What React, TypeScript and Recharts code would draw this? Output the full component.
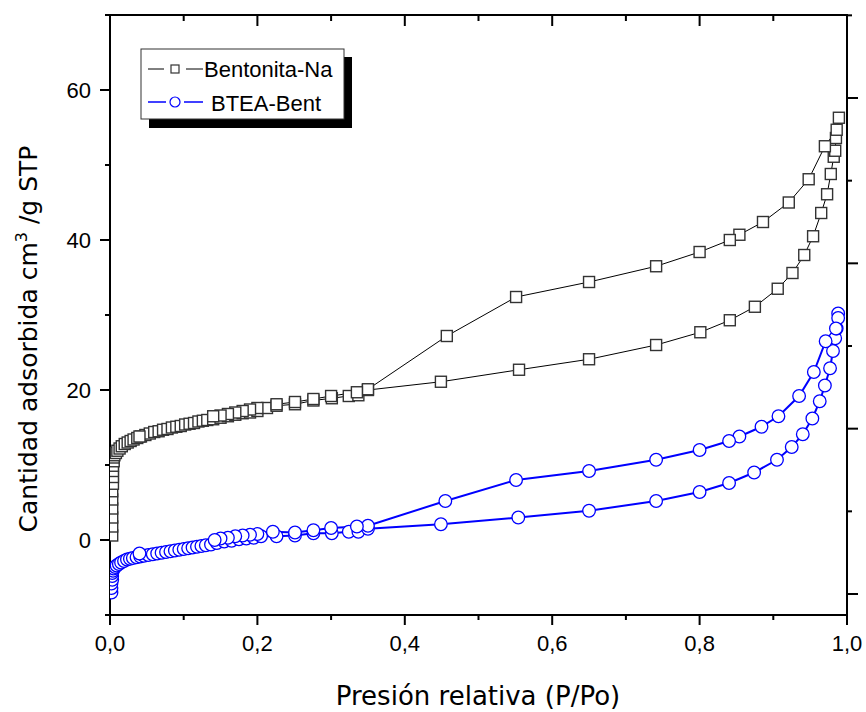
import React from 'react';
import { LineChart, Line, XAxis, YAxis } from 'recharts';

// Isotherm readings (relative pressure P/Po, adsorbed volume cm3/g STP)
const naAdsP = [0.003, 0.003, 0.003, 0.003, 0.003, 0.003, 0.004, 0.004, 0.004, 0.004, 0.005, 0.005, 0.006, 0.008, 0.010, 0.013, 0.016, 0.020, 0.024, 0.028, 0.032, 0.037, 0.042, 0.048, 0.054, 0.060, 0.066, 0.072, 0.078, 0.084, 0.090, 0.096, 0.102, 0.108, 0.114, 0.120, 0.126, 0.132, 0.140, 0.150, 0.160, 0.170, 0.180, 0.190, 0.200, 0.213, 0.226, 0.251, 0.276, 0.301, 0.324, 0.337, 0.350, 0.449, 0.555, 0.650, 0.741, 0.801, 0.841, 0.875, 0.906, 0.926, 0.942, 0.954, 0.965, 0.973, 0.978, 0.982, 0.984, 0.985, 0.989];
const naAdsV = [0.6, 1.8, 3.0, 4.2, 5.4, 6.5, 7.5, 8.4, 9.2, 9.9, 10.5, 11.0, 11.3, 11.6, 11.9, 12.2, 12.5, 12.8, 13.0, 13.2, 13.4, 13.6, 13.8, 14.0, 14.2, 14.4, 14.5, 14.7, 14.8, 15.0, 15.1, 15.2, 15.4, 15.5, 15.6, 15.8, 15.9, 16.0, 16.1, 16.3, 16.5, 16.7, 16.9, 17.0, 17.2, 17.6, 17.9, 18.1, 18.6, 18.9, 19.2, 19.3, 20.0, 21.1, 22.7, 24.1, 26.0, 27.7, 29.3, 31.1, 33.5, 35.6, 38.0, 40.5, 43.6, 46.1, 48.8, 51.1, 51.9, 53.6, 56.3];
const naDesP = [0.986, 0.970, 0.948, 0.921, 0.886, 0.854, 0.841, 0.800, 0.741, 0.650, 0.551, 0.457, 0.350, 0.335, 0.300, 0.276, 0.251, 0.226, 0.200, 0.190, 0.180, 0.170, 0.160, 0.150, 0.140, 0.040];
const naDesV = [54.7, 52.5, 48.1, 45.0, 42.4, 40.7, 40.0, 38.4, 36.5, 34.4, 32.4, 27.2, 20.1, 19.7, 19.2, 18.8, 18.4, 18.1, 17.6, 17.4, 17.2, 17.0, 16.8, 16.6, 16.5, 13.8];

const btAdsP = [0.002, 0.002, 0.002, 0.003, 0.003, 0.003, 0.004, 0.005, 0.007, 0.009, 0.012, 0.015, 0.019, 0.023, 0.027, 0.031, 0.036, 0.041, 0.046, 0.052, 0.058, 0.064, 0.070, 0.076, 0.082, 0.088, 0.094, 0.100, 0.106, 0.112, 0.118, 0.124, 0.130, 0.137, 0.145, 0.155, 0.165, 0.175, 0.185, 0.195, 0.205, 0.226, 0.251, 0.276, 0.301, 0.324, 0.337, 0.350, 0.449, 0.554, 0.650, 0.741, 0.800, 0.840, 0.874, 0.905, 0.925, 0.940, 0.953, 0.963, 0.970, 0.977, 0.981, 0.984, 0.986, 0.988];
const btAdsV = [-7.0, -6.4, -5.8, -5.3, -4.8, -4.4, -4.1, -3.8, -3.6, -3.4, -3.2, -3.0, -2.8, -2.6, -2.5, -2.4, -2.3, -2.2, -2.1, -2.0, -1.9, -1.8, -1.7, -1.6, -1.5, -1.4, -1.3, -1.2, -1.1, -1.0, -0.9, -0.8, -0.7, -0.6, -0.4, -0.2, -0.1, 0.1, 0.2, 0.3, 0.5, 0.5, 0.6, 0.9, 0.9, 1.1, 1.1, 1.5, 2.1, 3.0, 3.9, 5.2, 6.4, 7.6, 9.0, 10.7, 12.4, 14.1, 16.2, 18.5, 20.6, 22.9, 25.2, 26.9, 28.2, 30.2];
const btDesP = [0.988, 0.985, 0.971, 0.955, 0.935, 0.907, 0.884, 0.854, 0.840, 0.800, 0.741, 0.650, 0.551, 0.455, 0.350, 0.335, 0.300, 0.276, 0.251, 0.221, 0.200, 0.190, 0.180, 0.170, 0.160, 0.150, 0.142, 0.040];
const btDesV = [29.6, 28.2, 26.5, 22.4, 19.2, 16.5, 15.1, 13.8, 13.2, 12.0, 10.7, 9.2, 8.0, 5.2, 1.9, 1.8, 1.6, 1.3, 1.0, 1.1, 0.8, 0.7, 0.6, 0.5, 0.3, 0.2, 0.0, -1.8];

const seriesNames = ['Bentonita-Na', 'BTEA-Bent'];
const xTicks = [0, 0.1, 0.2, 0.3, 0.4, 0.5, 0.6, 0.7, 0.8, 0.9, 1.0];
const yTicks = [-10, 0, 10, 20, 30, 40, 50, 60, 70];
const rightTicks = [0, 1, 2, 3, 4, 5, 6, 7];

const toRows = (ps: number[], vs: number[]) => ps.map((x, i) => ({ x, y: vs[i] }));
const naData = [...toRows(naAdsP, naAdsV), ...toRows(naDesP, naDesV)];
const btData = [...toRows(btAdsP, btAdsV), ...toRows(btDesP, btDesV)];

const BLUE = '#0000ff';
const TICK_FONT = '"Liberation Sans", Arial, sans-serif';
const TITLE_FONT = '"DejaVu Sans", sans-serif';

// plot box (layout)
const PLOT_L = 110;
const PLOT_R = 847;
const PLOT_T = 15;
const PLOT_B = 615;
const PLOT_H = PLOT_B - PLOT_T;

// bottom ticks, plus the matching inward ticks on the top frame
const BottomTick = (p: any) => {
  const major = Math.round(p.payload.value * 10) % 2 === 0;
  const top = p.y - PLOT_H;
  return (
    <g>
      <rect x={p.x - 1} y={p.y} width={2} height={major ? 10 : 5} fill="#000" />
      <rect x={p.x - 1} y={top} width={2} height={major ? 11 : 6} fill="#000" />
      {major && (
        <text x={p.x} y={p.y + 36} textAnchor="middle" fontSize={22} fontFamily={TICK_FONT} fill="#000">
          {p.payload.value.toFixed(1).replace('.', ',')}
        </text>
      )}
    </g>
  );
};

const LeftTick = (p: any) => {
  const major = p.payload.value % 20 === 0;
  const len = major ? 10 : 5;
  return (
    <g>
      <rect x={p.x - len} y={p.y - 1} width={len} height={2} fill="#000" />
      {major && (
        <text x={p.x - 19} y={p.y + 8} textAnchor="end" fontSize={22} fontFamily={TICK_FONT} fill="#000">
          {p.payload.value}
        </text>
      )}
    </g>
  );
};

// right axis: tick marks only, plus its spine drawn from the top tick
const RightTick = (p: any) => {
  const major = p.payload.value % 2 === 0;
  return <rect x={p.x} y={p.y - 1} width={major ? 11 : 5} height={2} fill="#000" />;
};

const SquareDot = (p: any) => (
  <rect key={p.index} x={p.cx - 5.5} y={p.cy - 5.5} width={11} height={11} fill="#fff" stroke="#333" strokeWidth={1.4} />
);

const CircleDot = (p: any) => (
  <circle key={p.index} cx={p.cx} cy={p.cy} r={6.3} fill="#fff" stroke={BLUE} strokeWidth={1.3} />
);

export default function App() {
  return (
    <div style={{ position: 'absolute', left: 0, top: 0, width: 866, height: 712, background: '#fff' }}>
      <LineChart width={866} height={712} margin={{ top: PLOT_T, right: 18, bottom: 0, left: 0 }}>
        <XAxis xAxisId="b" type="number" dataKey="x" domain={[0, 1]} ticks={xTicks} interval={0}
          allowDataOverflow height={97} tickSize={0} tickMargin={0} tickLine={false}
          axisLine={{ stroke: '#000', strokeWidth: 2 }} tick={BottomTick} />
        <YAxis yAxisId="l" type="number" domain={[-10, 70]} ticks={yTicks} interval={0}
          allowDataOverflow width={PLOT_L} tickSize={0} tickMargin={0} tickLine={false}
          axisLine={{ stroke: '#000', strokeWidth: 2 }} tick={LeftTick} />
        <YAxis yAxisId="r" orientation="right" type="number" domain={[-0.254, 7.004]} ticks={rightTicks}
          interval={0} allowDataOverflow width={1} tickSize={0} tickMargin={0} tickLine={false}
          axisLine={{ stroke: '#000', strokeWidth: 2 }} tick={RightTick} />
        <Line xAxisId="b" yAxisId="l" data={naData} dataKey="y" name={seriesNames[0]} type="linear"
          stroke="#000" strokeWidth={1} dot={SquareDot} activeDot={false} isAnimationActive={false} />
        <Line xAxisId="b" yAxisId="l" data={btData} dataKey="y" name={seriesNames[1]} type="linear"
          stroke={BLUE} strokeWidth={2} dot={CircleDot} activeDot={false} isAnimationActive={false} />
      </LineChart>

      <svg width={866} height={712} style={{ position: 'absolute', left: 0, top: 0, pointerEvents: 'none' }}>
        {/* top and right frame edges as filled bars */}
        <rect x={PLOT_L - 5} y={PLOT_T - 1} width={PLOT_R - PLOT_L + 6} height={2} fill="#000" />
        <rect x={PLOT_R - 1} y={PLOT_T - 1} width={2} height={PLOT_H + 2} fill="#000" />

        {/* legend with drop shadow */}
        <rect x={149} y={57} width={203} height={71} fill="#000" />
        <rect x={141} y={49} width={203} height={70} fill="#fff" stroke="#333" strokeWidth={1} />
        <line x1={148} y1={69} x2={164} y2={69} stroke="#000" strokeWidth={1} />
        <line x1={186} y1={69} x2={203} y2={69} stroke="#000" strokeWidth={1} />
        <rect x={171} y={65} width={8} height={8} fill="#fff" stroke="#333" strokeWidth={1.2} />
        <text x={204} y={77} fontSize={22} fontFamily={TICK_FONT} fill="#000">{seriesNames[0]}</text>
        <line x1={148} y1={102} x2={166} y2={102} stroke={BLUE} strokeWidth={1.5} />
        <line x1={184} y1={102} x2={203} y2={102} stroke={BLUE} strokeWidth={1.5} />
        <circle cx={175} cy={102} r={5} fill="#fff" stroke={BLUE} strokeWidth={1.2} />
        <text x={211} y={111} fontSize={22} fontFamily={TICK_FONT} fill="#000">{seriesNames[1]}</text>

        {/* axis titles */}
        <text x={478} y={705} textAnchor="middle" fontSize={26} fontFamily={TITLE_FONT} fill="#000">
          Presión relativa (P/Po)
        </text>
        <text transform="translate(37,339) rotate(-90)" textAnchor="middle" fontSize={25}
          fontFamily={TITLE_FONT} fill="#000">
          Cantidad adsorbida cm
          <tspan dy={-10} fontSize={16}>3</tspan>
          <tspan dy={10}> /g STP</tspan>
        </text>
      </svg>
    </div>
  );
}
